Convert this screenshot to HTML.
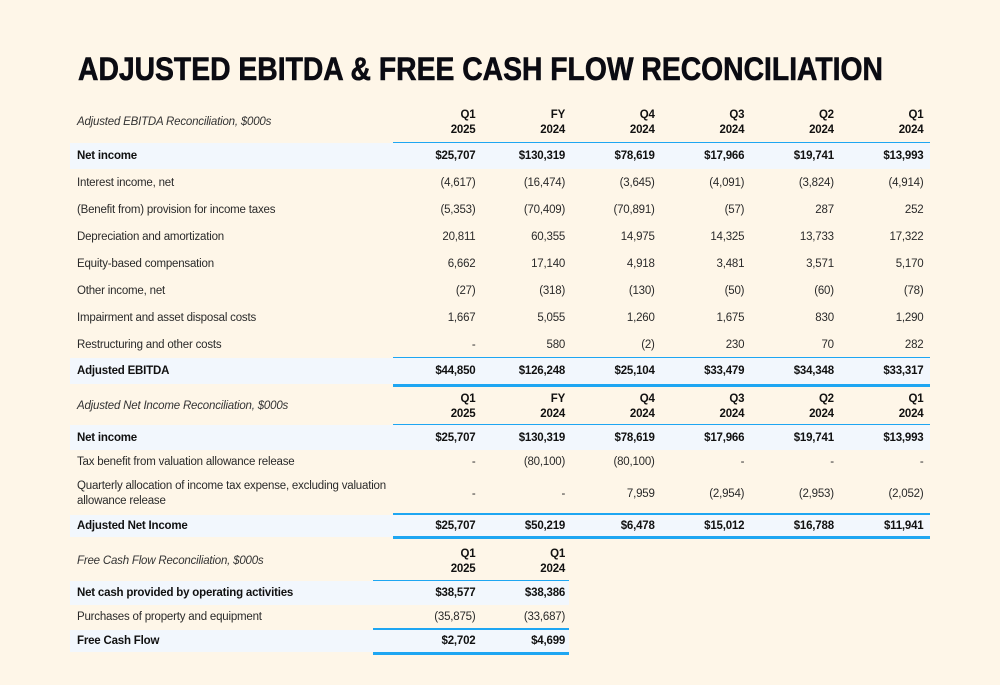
<!DOCTYPE html>
<html><head><meta charset="utf-8"><style>
body{margin:0;width:1000px;height:685px;background:#fef6e8;font-family:"Liberation Sans",sans-serif;position:relative;overflow:hidden;color:#2a2a2a}
.a{position:absolute}
.t{position:absolute;font-size:11.5px;letter-spacing:-0.2px;white-space:nowrap;line-height:14px}
.b{font-weight:bold;color:#111}
.bg{position:absolute;background:#f2f7fd}
.ln{position:absolute;background:#1ea6f2}
</style></head><body>
<svg class="a" style="left:0;top:0" width="1000" height="100">
<text x="78" y="80" font-family="Liberation Sans" font-weight="bold" font-size="32" stroke="#0b0b12" stroke-width="0.6" textLength="805" lengthAdjust="spacingAndGlyphs" fill="#0b0b12">ADJUSTED EBITDA &amp; FREE CASH FLOW RECONCILIATION</text>
</svg>
<div id="root"></div>
<script>
const colsMain=[["Q1","2025"],["FY","2024"],["Q4","2024"],["Q3","2024"],["Q2","2024"],["Q1","2024"]];
const colsFcf=[["Q1","2025"],["Q1","2024"]];
const ebitdaRows=[
["Net income",["$25,707","$130,319","$78,619","$17,966","$19,741","$13,993"],1],
["Interest income, net",["(4,617)","(16,474)","(3,645)","(4,091)","(3,824)","(4,914)"],0],
["(Benefit from) provision for income taxes",["(5,353)","(70,409)","(70,891)","(57)","287","252"],0],
["Depreciation and amortization",["20,811","60,355","14,975","14,325","13,733","17,322"],0],
["Equity-based compensation",["6,662","17,140","4,918","3,481","3,571","5,170"],0],
["Other income, net",["(27)","(318)","(130)","(50)","(60)","(78)"],0],
["Impairment and asset disposal costs",["1,667","5,055","1,260","1,675","830","1,290"],0],
["Restructuring and other costs",["-","580","(2)","230","70","282"],0],
["Adjusted EBITDA",["$44,850","$126,248","$25,104","$33,479","$34,348","$33,317"],1]];
const niRows=[
["Net income",["$25,707","$130,319","$78,619","$17,966","$19,741","$13,993"],1],
["Tax benefit from valuation allowance release",["-","(80,100)","(80,100)","-","-","-"],0],
["Quarterly allocation of income tax expense, excluding valuation<br>allowance release",["-","-","7,959","(2,954)","(2,953)","(2,052)"],0],
["Adjusted Net Income",["$25,707","$50,219","$6,478","$15,012","$16,788","$11,941"],1]];
const fcfRows=[
["Net cash provided by operating activities",["$38,577","$38,386"],1],
["Purchases of property and equipment",["(35,875)","(33,687)"],0],
["Free Cash Flow",["$2,702","$4,699"],1]];
const root=document.getElementById('root');
function colRight(i){return 475.5+i*89.6;}
function mk(cls,style,html){const d=document.createElement('div');d.className=cls;d.style.cssText=style;if(html!==undefined)d.innerHTML=html;root.appendChild(d);return d;}
function header(title,cols,top,h,lineLeft,lineRight){
 const t=mk('t','left:77px;top:'+(top+h/2-7)+'px;font-style:italic;color:#333',title);
 
 
 cols.forEach((c,i)=>{
  const d=mk('t b','text-align:right;width:80px;left:'+(colRight(i)-80)+'px;top:'+(top+h/2-14)+'px;line-height:15px',c[0]+'<br>'+c[1]);
  
  
 });
 const l=mk('ln','left:'+lineLeft+'px;width:'+(lineRight-lineLeft)+'px;top:'+(top+h-1)+'px;height:2px');
 
 
}
function rows(list,tops,heights,right){
 list.forEach((r,k)=>{
  const top=tops[k],h=heights[k];
  if(r[2]){const bg=mk('bg','left:70px;width:'+(right-70)+'px;top:'+top+'px;height:'+h+'px');
   
   }
  const lab=mk('t'+(r[2]?' b':''),'left:77px;top:'+(top+h/2-(r[0].includes('<br>')?15:7))+'px;line-height:'+(r[0].includes('<br>')?'15px':'14px'),r[0]);
  
  
  r[1].forEach((v,i)=>{
   const d=mk('t'+(r[2]?' b':''),'text-align:right;width:80px;left:'+(colRight(i)-80)+'px;top:'+(top+h/2-7)+'px',v);
   
   
  });
 });
}
function line(l,r,y,h){const d=mk('ln','left:'+l+'px;width:'+(r-l)+'px;top:'+y+'px;height:'+h+'px');
 
 }
header('Adjusted EBITDA Reconciliation, $000s',colsMain,100,43,393,930);
rows(ebitdaRows,[143,169,196,223,250,277,304,331,358],[26,27,27,27,27,27,27,27,26],930);
line(393,930,357,1);line(393,930,384,3);
header('Adjusted Net Income Reconciliation, $000s',colsMain,387,38,393,930);
rows(niRows,[425,450,473,515],[25,23,41,22],930);
line(393,930,513,2);line(393,930,536,3);
header('Free Cash Flow Reconciliation, $000s',colsFcf,541,40,373,569);
rows(fcfRows,[581,605,630],[24,24,22],569);
line(373,569,628,2);line(373,569,652,3);
</script>
</body></html>
